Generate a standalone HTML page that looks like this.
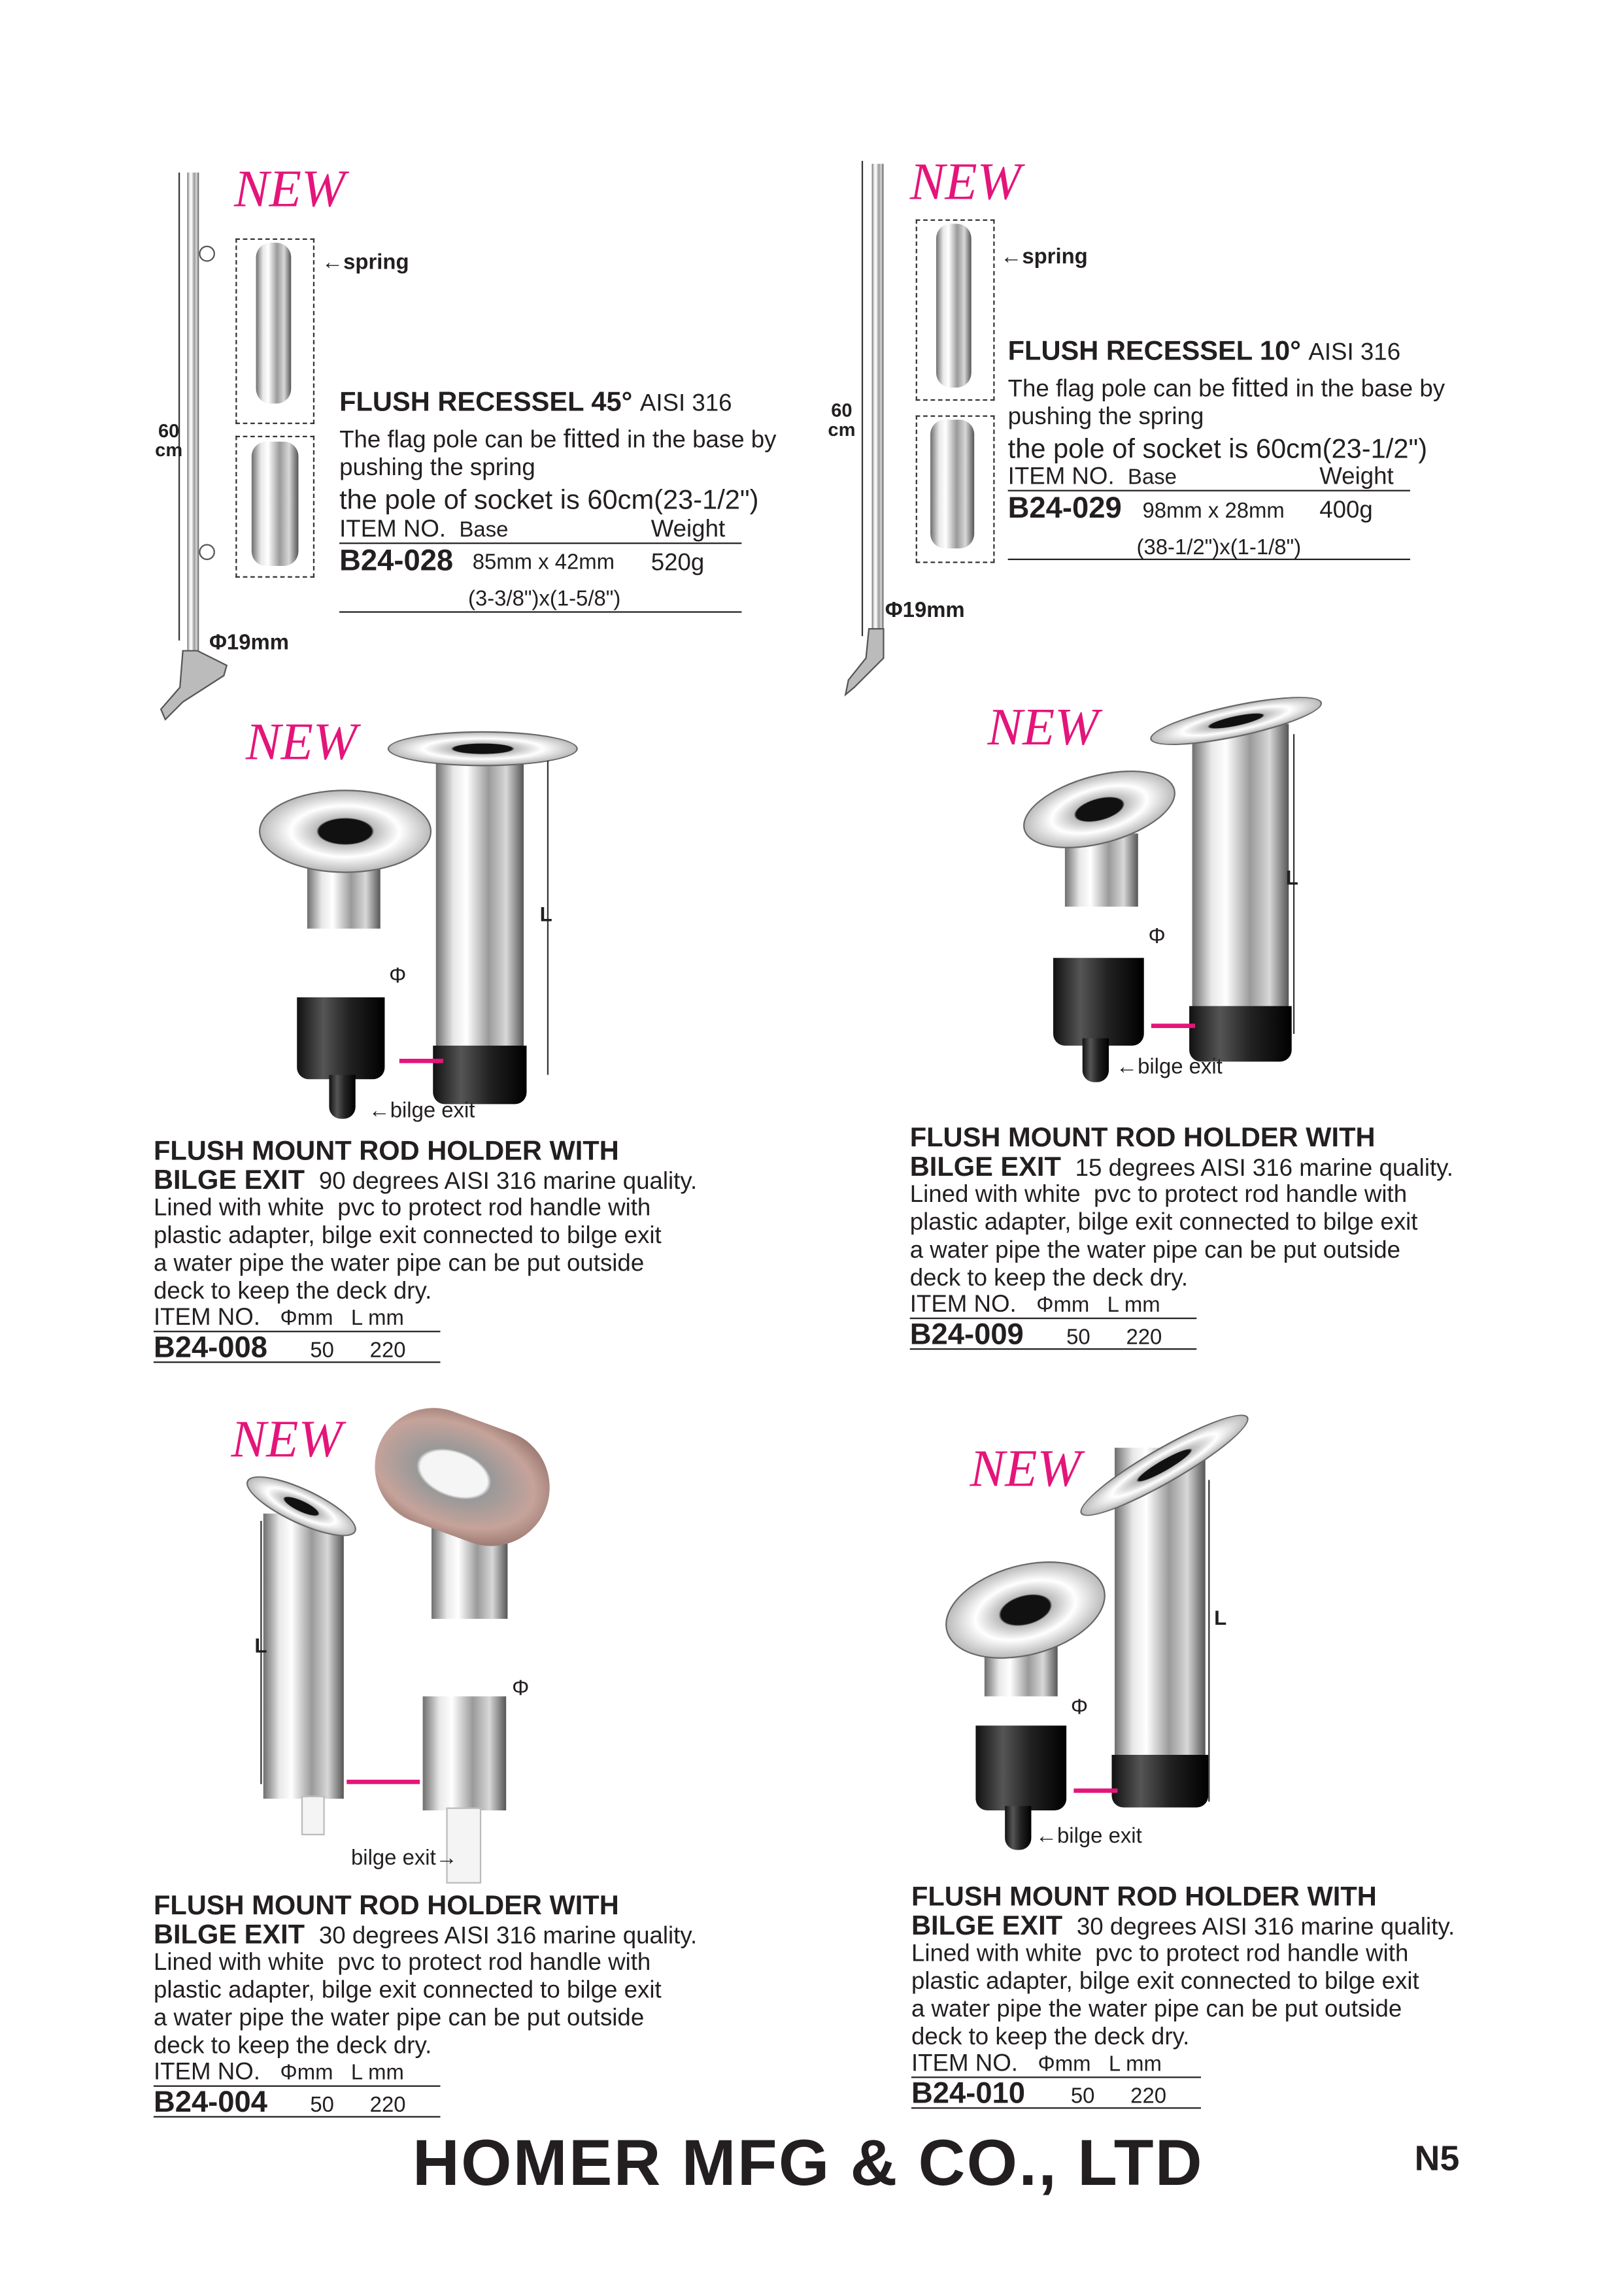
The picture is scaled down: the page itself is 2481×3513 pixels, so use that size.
<!DOCTYPE html>
<html><head><meta charset="utf-8">
<style>
html,body{margin:0;padding:0;background:#fff;}
body{width:2481px;height:3508px;overflow:hidden;position:relative;}
#p{position:absolute;left:0;top:0;width:1110px;height:1570px;transform:scale(2.2375);transform-origin:0 0;font-family:"Liberation Sans",sans-serif;color:#231f20;}
.a{position:absolute;white-space:nowrap;}
.new{font-family:"Liberation Serif",serif;font-style:italic;color:#e4157a;font-size:36px;}
.h{font-weight:bold;font-size:18.6px;}
.t{font-size:16.4px;}
.s{font-size:14.7px;}
.dash{position:absolute;border:1px dashed #333;}
.ln{position:absolute;height:1px;background:#231f20;}
.tube{position:absolute;background:linear-gradient(90deg,#6e6e6e,#e8e8e8 20%,#fff 35%,#9a9a9a 60%,#d8d8d8 80%,#555);}
.blk{position:absolute;background:linear-gradient(90deg,#111,#555 30%,#222 60%,#000);border-radius:0 0 8px 8px;}
.fl{position:absolute;border-radius:50%;background:radial-gradient(ellipse at 50% 50%,#111 22%,#bbb 24%,#fff 45%,#888 90%);border:1px solid #666;}
.dim{position:absolute;width:1px;background:#333;}
.arrowp{position:absolute;height:3px;background:#e4157a;}
</style></head><body><div id="p">

<!-- Top left -->
<div class="a new" style="left:160px;top:108px;">NEW</div>
<div class="tube" style="left:128px;top:118px;width:8px;height:335px;"></div>
<svg class="a" style="left:105px;top:440px;" width="60" height="60"><path d="M20 5 L30 5 L50 15 L48 22 L20 40 L8 52 L5 45 L18 30 Z" fill="#bbb" stroke="#555"/></svg>
<div class="dim" style="left:122px;top:118px;height:320px;"></div>
<div class="a" style="left:136px;top:168px;width:9px;height:9px;border:1px solid #555;border-radius:50%;"></div>
<div class="a" style="left:136px;top:372px;width:9px;height:9px;border:1px solid #555;border-radius:50%;"></div>
<div class="a h" style="left:106px;top:288px;font-size:13px;line-height:13px;text-align:center;">60<br>cm</div>
<div class="a s" style="left:143px;top:432px;font-weight:bold;">&#934;19mm</div>
<div class="dash" style="left:161px;top:163px;width:52px;height:125px;"></div>
<div class="dash" style="left:161px;top:298px;width:52px;height:95px;"></div>
<div class="tube" style="left:175px;top:166px;width:24px;height:110px;border-radius:10px;"></div>
<div class="tube" style="left:172px;top:302px;width:32px;height:85px;border-radius:10px;"></div>
<div class="a s" style="left:220px;top:172px;font-weight:bold;">&larr;spring</div>
<div class="a h" style="left:232px;top:264px;">FLUSH RECESSEL 45&deg; <span style="font-weight:normal;font-size:16.4px">AISI 316</span></div>
<div class="a t" style="left:232px;top:290px;">The flag pole can be <span style="font-size:18px">fitted</span> in the base by</div>
<div class="a t" style="left:232px;top:311px;">pushing the spring</div>
<div class="a" style="left:232px;top:331px;font-size:18.6px;">the pole of socket is 60cm(23-1/2")</div>
<div class="a t" style="left:232px;top:353px;">ITEM NO. &nbsp;<span style="font-size:14.7px">Base</span></div>
<div class="a t" style="left:445px;top:353px;">Weight</div>
<div class="ln" style="left:232px;top:371px;width:275px;"></div>
<div class="a h" style="left:232px;top:373px;font-size:20.3px;">B24-028</div>
<div class="a s" style="left:323px;top:377px;">85mm x 42mm</div>
<div class="a t" style="left:445px;top:376px;">520g</div>
<div class="a s" style="left:320px;top:402px;">(3-3/8")x(1-5/8")</div>
<div class="ln" style="left:232px;top:418px;width:275px;"></div>

<!-- Top right -->
<div class="a new" style="left:622px;top:103px;">NEW</div>
<div class="tube" style="left:596px;top:112px;width:8px;height:338px;"></div>
<svg class="a" style="left:572px;top:425px;" width="50" height="55"><path d="M22 5 L32 5 L32 25 L12 45 L6 50 L8 40 L20 25 Z" fill="#bbb" stroke="#555"/></svg>
<div class="dim" style="left:589px;top:110px;height:325px;"></div>
<div class="a h" style="left:566px;top:274px;font-size:13px;line-height:13px;text-align:center;">60<br>cm</div>
<div class="a s" style="left:605px;top:410px;font-weight:bold;">&#934;19mm</div>
<div class="dash" style="left:626px;top:150px;width:52px;height:122px;"></div>
<div class="dash" style="left:626px;top:284px;width:52px;height:99px;"></div>
<div class="tube" style="left:640px;top:153px;width:24px;height:112px;border-radius:10px;"></div>
<div class="tube" style="left:636px;top:287px;width:30px;height:88px;border-radius:10px;"></div>
<div class="a s" style="left:684px;top:168px;font-weight:bold;">&larr;spring</div>
<div class="a h" style="left:689px;top:229px;">FLUSH RECESSEL 10&deg; <span style="font-weight:normal;font-size:16.4px">AISI 316</span></div>
<div class="a t" style="left:689px;top:255px;">The flag pole can be <span style="font-size:18px">fitted</span> in the base by</div>
<div class="a t" style="left:689px;top:276px;">pushing the spring</div>
<div class="a" style="left:689px;top:296px;font-size:18.6px;">the pole of socket is 60cm(23-1/2")</div>
<div class="a t" style="left:689px;top:317px;">ITEM NO. &nbsp;<span style="font-size:14.7px">Base</span></div>
<div class="a t" style="left:902px;top:317px;">Weight</div>
<div class="ln" style="left:689px;top:335px;width:275px;"></div>
<div class="a h" style="left:689px;top:337px;font-size:20.3px;">B24-029</div>
<div class="a s" style="left:781px;top:342px;">98mm x 28mm</div>
<div class="a t" style="left:902px;top:340px;">400g</div>
<div class="a s" style="left:777px;top:367px;">(38-1/2")x(1-1/8")</div>
<div class="ln" style="left:689px;top:382px;width:275px;"></div>

<!-- Product B24-008 -->
<div class="a new" style="left:168px;top:486px;">NEW</div>
<div class="tube" style="left:298px;top:512px;width:60px;height:205px;"></div>
<div class="blk" style="left:296px;top:715px;width:64px;height:40px;"></div>
<div class="fl" style="left:265px;top:500px;width:128px;height:22px;"></div>
<div class="tube" style="left:210px;top:585px;width:50px;height:50px;"></div>
<div class="fl" style="left:177px;top:540px;width:116px;height:55px;"></div>
<div class="blk" style="left:203px;top:682px;width:60px;height:56px;"></div>
<div class="blk" style="left:225px;top:735px;width:18px;height:30px;"></div>
<div class="dim" style="left:374px;top:520px;height:215px;"></div>
<div class="a h" style="left:369px;top:617px;font-size:14px;">L</div>
<div class="a s" style="left:266px;top:660px;">&#934;</div>
<div class="arrowp" style="left:273px;top:724px;width:30px;"></div>
<div class="a s" style="left:252px;top:752px;">&larr;bilge exit</div>
<div class="a h" style="left:105px;top:776px;">FLUSH MOUNT ROD HOLDER WITH</div>
<div class="a h" style="left:105px;top:796px;">BILGE EXIT <span style="font-weight:normal;font-size:16.4px">&nbsp;90 degrees AISI 316 marine quality.</span></div>
<div class="a t" style="left:105px;top:817px;line-height:19px;">Lined with white &nbsp;pvc to protect rod handle with<br>plastic adapter, bilge exit connected to bilge exit<br>a water pipe the water pipe can be put outside<br>deck to keep the deck dry.</div>
<div class="a t" style="left:105px;top:892px;">ITEM NO. &nbsp;&nbsp;<span style="font-size:14.7px">&#934;mm &nbsp;&nbsp;L mm</span></div>
<div class="ln" style="left:105px;top:910px;width:196px;"></div>
<div class="a h" style="left:105px;top:911px;font-size:20.3px;">B24-008</div>
<div class="a s" style="left:212px;top:916px;">50 &nbsp;&nbsp;&nbsp;&nbsp;&nbsp;220</div>
<div class="ln" style="left:105px;top:931px;width:196px;"></div>

<!-- Product B24-009 -->
<div class="a new" style="left:675px;top:476px;">NEW</div>
<div class="tube" style="left:815px;top:495px;width:66px;height:195px;"></div>
<div class="blk" style="left:813px;top:688px;width:70px;height:38px;"></div>
<div class="fl" style="left:785px;top:482px;width:118px;height:20px;transform:rotate(-12deg);"></div>
<div class="tube" style="left:728px;top:570px;width:50px;height:50px;"></div>
<div class="fl" style="left:698px;top:530px;width:105px;height:45px;transform:rotate(-15deg);"></div>
<div class="blk" style="left:720px;top:655px;width:62px;height:60px;"></div>
<div class="blk" style="left:740px;top:710px;width:18px;height:30px;"></div>
<div class="dim" style="left:884px;top:502px;height:205px;"></div>
<div class="a h" style="left:879px;top:592px;font-size:14px;">L</div>
<div class="a s" style="left:785px;top:633px;">&#934;</div>
<div class="arrowp" style="left:787px;top:700px;width:30px;"></div>
<div class="a s" style="left:763px;top:722px;">&larr;bilge exit</div>
<div class="a h" style="left:622px;top:767px;">FLUSH MOUNT ROD HOLDER WITH</div>
<div class="a h" style="left:622px;top:787px;">BILGE EXIT <span style="font-weight:normal;font-size:16.4px">&nbsp;15 degrees AISI 316 marine quality.</span></div>
<div class="a t" style="left:622px;top:808px;line-height:19px;">Lined with white &nbsp;pvc to protect rod handle with<br>plastic adapter, bilge exit connected to bilge exit<br>a water pipe the water pipe can be put outside<br>deck to keep the deck dry.</div>
<div class="a t" style="left:622px;top:883px;">ITEM NO. &nbsp;&nbsp;<span style="font-size:14.7px">&#934;mm &nbsp;&nbsp;L mm</span></div>
<div class="ln" style="left:622px;top:901px;width:196px;"></div>
<div class="a h" style="left:622px;top:902px;font-size:20.3px;">B24-009</div>
<div class="a s" style="left:729px;top:907px;">50 &nbsp;&nbsp;&nbsp;&nbsp;&nbsp;220</div>
<div class="ln" style="left:622px;top:922px;width:196px;"></div>

<!-- Product B24-004 -->
<div class="a new" style="left:158px;top:963px;">NEW</div>
<div class="tube" style="left:180px;top:1035px;width:55px;height:195px;"></div>
<div class="fl" style="left:165px;top:1018px;width:80px;height:22px;transform:rotate(25deg);"></div>
<div class="a" style="left:206px;top:1228px;width:14px;height:25px;background:#f4f4f4;border:1px solid #bbb;"></div>
<div class="tube" style="left:295px;top:1035px;width:52px;height:72px;"></div>
<div class="a" style="left:255px;top:970px;width:122px;height:80px;border-radius:40px;background:radial-gradient(ellipse at 45% 50%,#f5f5f5 25%,#999 28%,#c6a39a 60%,#7a5a55 95%);transform:rotate(20deg);"></div>
<div class="tube" style="left:289px;top:1160px;width:57px;height:78px;"></div>
<div class="a" style="left:305px;top:1236px;width:22px;height:50px;background:#f4f4f4;border:1px solid #bbb;"></div>
<div class="dim" style="left:178px;top:1040px;height:180px;"></div>
<div class="a h" style="left:174px;top:1117px;font-size:14px;">L</div>
<div class="a s" style="left:350px;top:1147px;">&#934;</div>
<div class="arrowp" style="left:237px;top:1217px;width:50px;"></div>
<div class="a s" style="left:240px;top:1263px;">bilge exit&rarr;</div>
<div class="a h" style="left:105px;top:1292px;">FLUSH MOUNT ROD HOLDER WITH</div>
<div class="a h" style="left:105px;top:1312px;">BILGE EXIT <span style="font-weight:normal;font-size:16.4px">&nbsp;30 degrees AISI 316 marine quality.</span></div>
<div class="a t" style="left:105px;top:1333px;line-height:19px;">Lined with white &nbsp;pvc to protect rod handle with<br>plastic adapter, bilge exit connected to bilge exit<br>a water pipe the water pipe can be put outside<br>deck to keep the deck dry.</div>
<div class="a t" style="left:105px;top:1408px;">ITEM NO. &nbsp;&nbsp;<span style="font-size:14.7px">&#934;mm &nbsp;&nbsp;L mm</span></div>
<div class="ln" style="left:105px;top:1426px;width:196px;"></div>
<div class="a h" style="left:105px;top:1427px;font-size:20.3px;">B24-004</div>
<div class="a s" style="left:212px;top:1432px;">50 &nbsp;&nbsp;&nbsp;&nbsp;&nbsp;220</div>
<div class="ln" style="left:105px;top:1447px;width:196px;"></div>

<!-- Product B24-010 -->
<div class="a new" style="left:663px;top:983px;">NEW</div>
<div class="tube" style="left:762px;top:990px;width:62px;height:215px;"></div>
<div class="blk" style="left:760px;top:1200px;width:66px;height:36px;"></div>
<div class="fl" style="left:730px;top:990px;width:130px;height:22px;transform:rotate(-30deg);"></div>
<div class="tube" style="left:673px;top:1110px;width:50px;height:50px;"></div>
<div class="fl" style="left:645px;top:1070px;width:110px;height:60px;transform:rotate(-15deg);"></div>
<div class="blk" style="left:667px;top:1180px;width:62px;height:58px;"></div>
<div class="blk" style="left:687px;top:1235px;width:18px;height:30px;"></div>
<div class="dim" style="left:826px;top:1012px;height:220px;"></div>
<div class="a h" style="left:830px;top:1098px;font-size:14px;">L</div>
<div class="a s" style="left:732px;top:1160px;">&#934;</div>
<div class="arrowp" style="left:734px;top:1223px;width:30px;"></div>
<div class="a s" style="left:708px;top:1248px;">&larr;bilge exit</div>
<div class="a h" style="left:623px;top:1286px;">FLUSH MOUNT ROD HOLDER WITH</div>
<div class="a h" style="left:623px;top:1306px;">BILGE EXIT <span style="font-weight:normal;font-size:16.4px">&nbsp;30 degrees AISI 316 marine quality.</span></div>
<div class="a t" style="left:623px;top:1327px;line-height:19px;">Lined with white &nbsp;pvc to protect rod handle with<br>plastic adapter, bilge exit connected to bilge exit<br>a water pipe the water pipe can be put outside<br>deck to keep the deck dry.</div>
<div class="a t" style="left:623px;top:1402px;">ITEM NO. &nbsp;&nbsp;<span style="font-size:14.7px">&#934;mm &nbsp;&nbsp;L mm</span></div>
<div class="ln" style="left:623px;top:1420px;width:198px;"></div>
<div class="a h" style="left:623px;top:1421px;font-size:20.3px;">B24-010</div>
<div class="a s" style="left:732px;top:1426px;">50 &nbsp;&nbsp;&nbsp;&nbsp;&nbsp;220</div>
<div class="ln" style="left:623px;top:1441px;width:198px;"></div>

<!-- Footer -->
<div class="a" style="left:282px;top:1455px;font-weight:bold;font-size:44.5px;letter-spacing:1px;">HOMER MFG &amp; CO., LTD</div>
<div class="a" style="left:967px;top:1463px;font-weight:bold;font-size:24px;">N5</div>

</div></body></html>
